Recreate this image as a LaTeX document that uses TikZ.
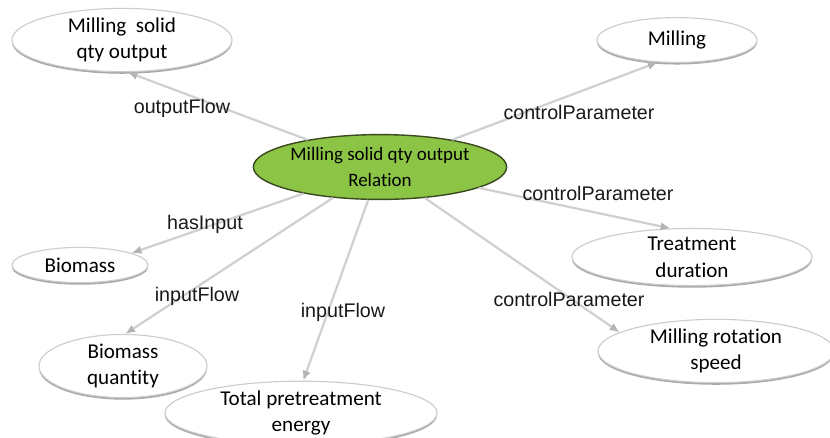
\documentclass[tikz,border=0pt]{standalone}
\usepackage{fontspec}
\usetikzlibrary{arrows.meta,shapes.geometric,shadows}

\newfontfamily\nodefont[Ligatures=NoCommon,RawFeature={-calt;-dlig}]{Carlito}
\newfontfamily\lblfont{Liberation Sans}

\definecolor{relgreen}{RGB}{140,196,70}
\definecolor{reledge}{RGB}{58,74,32}
\definecolor{linkgray}{RGB}{208,208,208}
\definecolor{tipgray}{RGB}{180,180,180}

\tikzset{
  concept/.style={ellipse, draw=gray!40, line width=0.8pt, fill=white,
    inner sep=0pt, align=center, text=black,
    font=\nodefont\fontsize{15}{19}\selectfont,
    drop shadow={shadow xshift=0pt, shadow yshift=-1.5pt, opacity=0.8, fill=gray!85}},
  relation/.style={ellipse, draw=reledge, line width=1pt, fill=relgreen,
    inner sep=0pt, align=center, text=black,
    font=\nodefont\fontsize{13.5}{18}\selectfont},
  link/.style={draw=linkgray, line width=1.6pt,
    -{Latex[length=7pt,width=6pt,color=tipgray]}},
  lbl/.style={inner sep=0pt, text=black!90, font=\lblfont\fontsize{14}{16}\selectfont}
}

\begin{document}
\begin{tikzpicture}[x=0.025cm, y=-0.025cm]
    \useasboundingbox (0,0) rectangle (830,437);

    % outer concepts
    \node[concept, minimum width=5.5cm, minimum height=1.25cm] (mso) at (122,40) {Milling\ \ solid\\qty output};
    \node[concept, minimum width=4.0cm, minimum height=1.12cm] (mil) at (677,40) {Milling};
    \node[concept, minimum width=6.0cm, minimum height=1.22cm] (trd) at (692,257) {Treatment\\duration};
    \node[concept, minimum width=5.9cm, minimum height=1.13cm] (mrs) at (716,351) {Milling rotation\\speed};
    \node[concept, minimum width=3.4cm, minimum height=0.88cm] (bio) at (80,265) {Biomass};
    \node[concept, minimum width=4.2cm, minimum height=1.2cm] (bq) at (123,366) {Biomass\\quantity};
    \node[concept, minimum width=6.8cm, minimum height=1.18cm] (tpe) at (301,413) {Total pretreatment\\energy};

    % the relation in the middle
    \node[relation, minimum width=5.4cm, minimum height=1.62cm] (rel) at (380,167) {Milling solid qty output\\Relation};

    % links
    \draw[link] (rel) -- (mso.-80);
    \draw[link] (rel) -- (mil.-131);
    \draw[link] (rel) -- (trd.127);
    \draw[link] (rel) -- (mrs.169);
    \draw[link] (rel) -- (bio.13);
    \draw[link] (rel) -- (bq.86);
    \draw[link] (rel) -- (tpe.86);

    % link names
    \node[lbl] (l1) at (182,108) {outputFlow};
    \node[lbl] (l2) at (579,112) {controlParameter};
    \node[lbl] (l3) at (598,193) {controlParameter};
    \node[lbl] (l4) at (569,299) {controlParameter};
    \node[lbl] (l5) at (205,224) {hasInput};
    \node[lbl] (l6) at (197,296) {inputFlow};
    \node[lbl] (l7) at (343,312) {inputFlow};
\end{tikzpicture}
\end{document}
